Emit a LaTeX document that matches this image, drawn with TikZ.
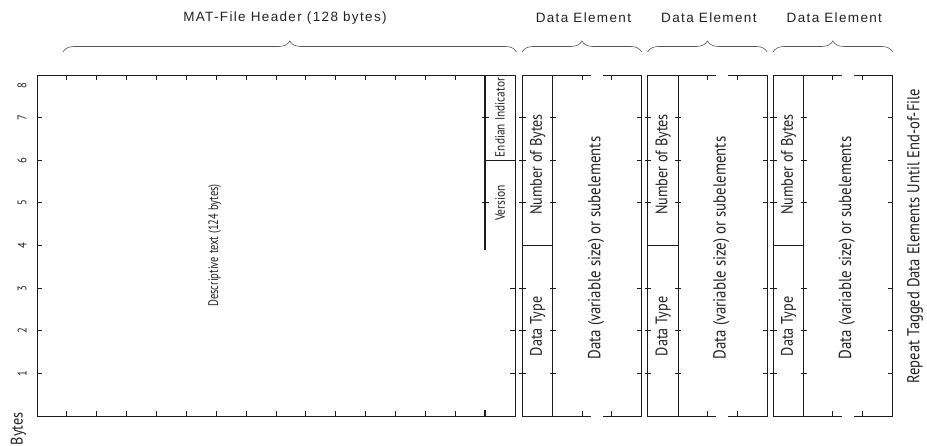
\documentclass[tikz,border=0pt]{standalone}
\usepackage{fontspec}
\usepackage{tikz}
\usetikzlibrary{decorations.pathreplacing}
\newfontfamily\headfont[LetterSpace=10]{Liberation Sans}
\newfontfamily\condfont[FakeStretch=0.85]{PT Sans}
\newfontfamily\narrowfont[FakeStretch=0.76]{PT Sans}
\definecolor{ink}{HTML}{1C1C1C}
\definecolor{soft}{HTML}{222222}
\definecolor{bracegray}{HTML}{555555}
\tikzset{
  boxline/.style={draw=ink, line width=0.9pt},
  bytetick/.style={draw=ink, line width=0.8pt},
  heavy/.style={draw=ink, line width=1.9pt},
  vlabel/.style={rotate=90, inner sep=0pt, text=soft,
                 font=\condfont\fontsize{16.7}{18}\selectfont},
  toplabel/.style={inner sep=0pt, text=soft,
                   font=\headfont\fontsize{13.5}{15}\selectfont},
  bracket/.style={draw=bracegray, line width=0.6pt, decorate,
                  decoration={brace, amplitude=11pt}}
}

\begin{document}
\begin{tikzpicture}[x=29.875pt,y=42.625pt]
  \useasboundingbox (-1.2385,-0.7038) rectangle (29.791,9.7595);
  % header block
  \draw[boxline] (0,0) rectangle (16,8);
  \foreach \x in {1,...,14} {
    \draw[bytetick] (\x,0) -- (\x,0.12);
    \draw[bytetick] (\x,8) -- (\x,7.88);
  }
  \draw[heavy] (15,8) -- (15,3.9);
  \draw[heavy] (15,0) -- (15,0.14);
  \draw[boxline] (15,6) -- (16,6);
  \foreach \y in {1,...,7} \draw[bytetick] (0,\y) -- (0.18,\y);
  \foreach \y in {1,2,3} \draw[bytetick] (16,\y) -- (15.82,\y);
  \foreach \y in {5,7} \draw[bytetick] (14.88,\y) -- (15.12,\y);
  \node[vlabel,font=\narrowfont\fontsize{13.8}{15}\selectfont] (desc) at (5.95,4.0) {Descriptive text (124 bytes)};
  \node[vlabel,font=\condfont\fontsize{13.3}{15}\selectfont] (endian) at (15.5,7.0) {Endian Indicator};
  \node[vlabel,font=\condfont\fontsize{13.6}{15}\selectfont] (version) at (15.5,5.0) {Version};
  % byte scale
  \foreach \n/\pos in {1/1,2/2,3/3,4/4,5/5,6/6,7/7,8/7.75}
    \node[vlabel,font=\condfont\fontsize{12.5}{14}\selectfont] (num\n) at (-0.5,\pos) {\n};
  \node[vlabel] (bytes) at (-0.62,-0.3) {Bytes};
  \draw[bracket] (0.87,8.54) -- (16.05,8.54);
  \node[toplabel] (header) at (8.3,9.337) {MAT-File Header (128 bytes)};
  % data elements
  \foreach \i in {0,1,2} {
    \pgfmathsetmacro{\l}{16.24+4.2*\i}
    \begin{scope}[shift={(\l,0)}]
      \draw[boxline] (0,0) rectangle (1.03,8);
      \draw[boxline] (0,4) -- (1.03,4);
      \draw[boxline] (1.03,0) -- (2.3,0);
      \draw[boxline] (1.03,8) -- (2.3,8);
      \draw[boxline] (2.7,0) -- (4,0) -- (4,8) -- (2.7,8);
      \foreach \x in {2,3} {
        \draw[bytetick] (\x,0) -- (\x,0.12);
        \draw[bytetick] (\x,8) -- (\x,7.88);
      }
      \foreach \y in {1,2,3,5,6,7} {
        \draw[bytetick] (-0.1,\y) -- (0.12,\y);
        \draw[bytetick] (0.93,\y) -- (1.13,\y);
        \draw[bytetick] (4,\y) -- (3.85,\y);
      }
      \node[vlabel] (nbytes\i) at (0.52,5.9) {Number of Bytes};
      \node[vlabel] (dtype\i) at (0.52,2.1) {Data Type};
      \node[vlabel,font=\condfont\fontsize{17.5}{19}\selectfont] (data\i) at (2.47,3.94) {Data (variable size) or subelements};
      \draw[bracket] (0,8.54) -- (4,8.54);
      \node[toplabel] (elem\i) at (2.05,9.337) {Data Element};
    \end{scope}
  }
  \node[vlabel,font=\condfont\fontsize{17.2}{19}\selectfont] (repeat) at (29.39,4.22) {Repeat Tagged Data Elements Until End-of-File};
\end{tikzpicture}
\end{document}
